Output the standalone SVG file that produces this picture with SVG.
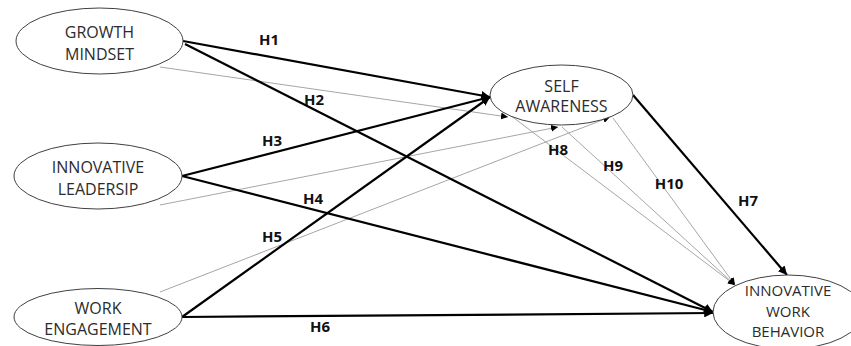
<svg xmlns="http://www.w3.org/2000/svg" width="851" height="346" viewBox="0 0 851 346">
<style>
.node ellipse{fill:#fff;stroke:#404040;stroke-width:1}
.node text{font-family:"Open Sans","Liberation Sans",sans-serif;font-size:16px;fill:#2b2b2b;text-anchor:middle}
#innovative-work-behavior text{font-size:15px}
.thick{stroke:#000;stroke-width:2.2;fill:none}
.thin{stroke:#a6a6a6;stroke-width:1;fill:none}
.lbl{font-family:"Open Sans","Liberation Sans",sans-serif;font-size:15px;font-weight:bold;fill:#111;text-anchor:middle}
</style>
<defs>
<marker id="ah" viewBox="0 0 10 10" refX="10" refY="5" markerWidth="4" markerHeight="4" orient="auto" markerUnits="strokeWidth"><path d="M0,0L10,5L0,10z" fill="#000"/></marker>
<marker id="ahs" viewBox="0 0 10 10" refX="10" refY="5" markerWidth="7" markerHeight="7" orient="auto" markerUnits="strokeWidth"><path d="M0,0L10,5L0,10z" fill="#000"/></marker>
</defs>
<rect width="851" height="346" fill="#fff"/>
<g id="connectors">
<line class="thin" x1="160" y1="67" x2="508" y2="117" marker-end="url(#ahs)"/>
<line class="thin" x1="160" y1="205" x2="558" y2="127" marker-end="url(#ahs)"/>
<line class="thin" x1="160" y1="292" x2="610" y2="117" marker-end="url(#ahs)"/>
<line class="thin" x1="510" y1="115" x2="735" y2="285" marker-end="url(#ahs)"/>
<line class="thin" x1="562" y1="127" x2="735" y2="285" marker-end="url(#ahs)"/>
<line class="thin" x1="613" y1="118" x2="735" y2="285" marker-end="url(#ahs)"/>
<line class="thick" x1="183" y1="41" x2="490" y2="97" marker-end="url(#ah)"/>
<line class="thick" x1="185" y1="44" x2="713" y2="312" marker-end="url(#ah)"/>
<line class="thick" x1="182" y1="176" x2="490" y2="97" marker-end="url(#ah)"/>
<line class="thick" x1="182" y1="176" x2="713" y2="312" marker-end="url(#ah)"/>
<line class="thick" x1="182" y1="317" x2="490" y2="97" marker-end="url(#ah)"/>
<line class="thick" x1="182" y1="317" x2="713" y2="313" marker-end="url(#ah)"/>
<line class="thick" x1="633" y1="95" x2="787" y2="275" marker-end="url(#ah)"/>
<text class="lbl" x="269" y="45">H1</text>
<text class="lbl" x="314" y="105">H2</text>
<text class="lbl" x="272" y="146">H3</text>
<text class="lbl" x="313" y="204">H4</text>
<text class="lbl" x="272" y="242">H5</text>
<text class="lbl" x="320" y="332">H6</text>
<text class="lbl" x="748" y="206">H7</text>
<text class="lbl" x="558" y="155">H8</text>
<text class="lbl" x="613" y="171">H9</text>
<text class="lbl" x="669" y="189">H10</text>
</g>
<g id="growth-mindset" class="node">
<ellipse cx="99.5" cy="41" rx="83.5" ry="33"/>
<text x="99.5" y="38">GROWTH</text>
<text x="99.5" y="60">MINDSET</text>
</g>
<g id="innovative-leadership" class="node">
<ellipse cx="98" cy="176" rx="84" ry="33"/>
<text x="98" y="173">INNOVATIVE</text>
<text x="98" y="195">LEADERSIP</text>
</g>
<g id="work-engagement" class="node">
<ellipse cx="98" cy="317" rx="84" ry="28.5"/>
<text x="98" y="314">WORK</text>
<text x="98" y="335">ENGAGEMENT</text>
</g>
<g id="self-awareness" class="node">
<ellipse cx="561.5" cy="95" rx="71.5" ry="30"/>
<text x="561.5" y="92">SELF</text>
<text x="561.5" y="112">AWARENESS</text>
</g>
<g id="innovative-work-behavior" class="node">
<ellipse cx="788" cy="312" rx="75" ry="37"/>
<text x="788" y="296">INNOVATIVE</text>
<text x="788" y="316.5">WORK</text>
<text x="788" y="337">BEHAVIOR</text>
</g>
</svg>
